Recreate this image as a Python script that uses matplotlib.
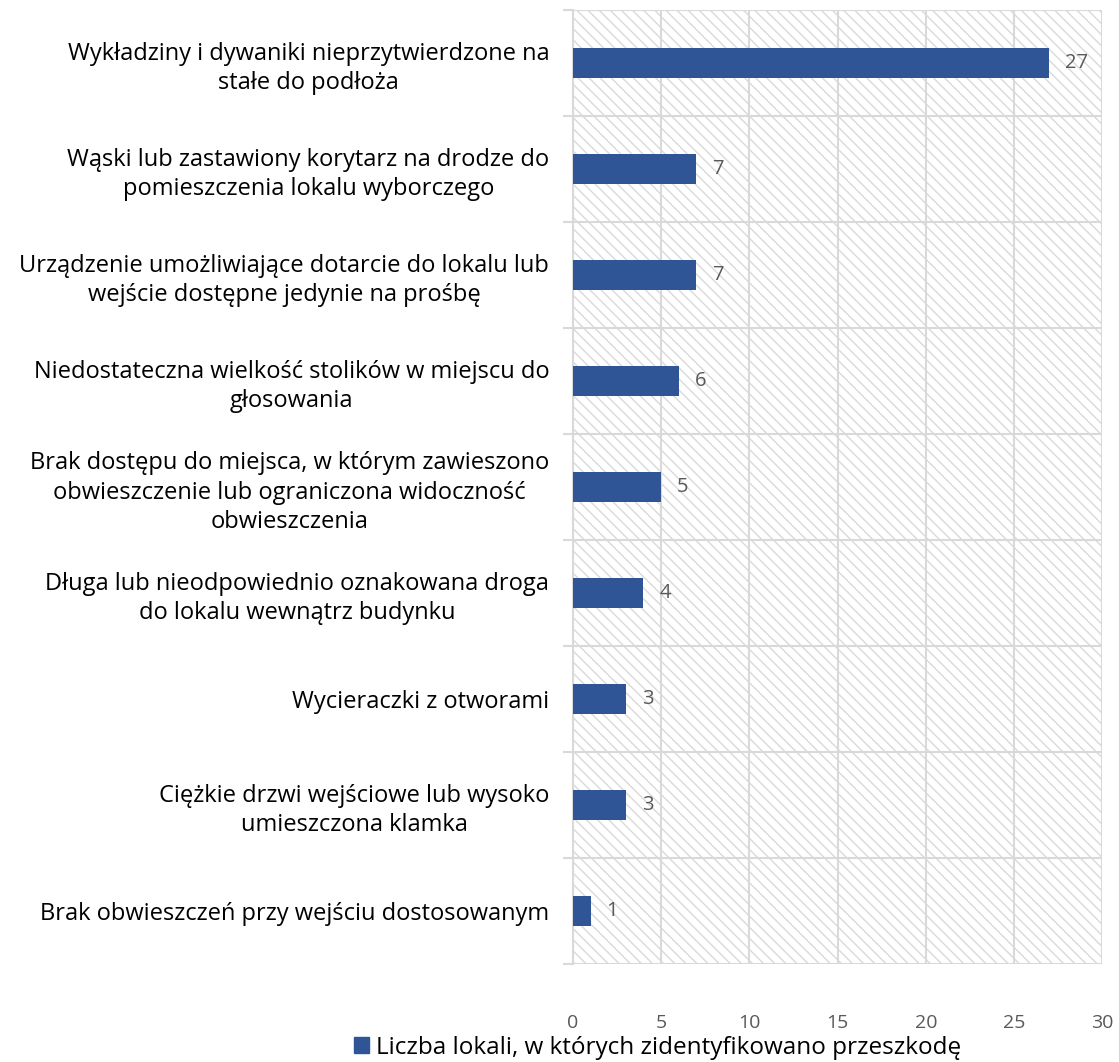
"""
Horizontal bar chart: obstacles found in polling stations.
Saves to out.png
"""

import matplotlib
matplotlib.use('Agg')
import matplotlib.pyplot as plt
from matplotlib.patches import Patch
import numpy as np

plt.rcParams['font.family'] = ['Open Sans', 'DejaVu Sans']
plt.rcParams['hatch.color'] = '#e0e0e0'
plt.rcParams['hatch.linewidth'] = 1.0

# Data (top to bottom)
categories = [
    'Wykładziny i dywaniki nieprzytwierdzone na\nstałe do podłoża',
    'Wąski lub zastawiony korytarz na drodze do\npomieszczenia lokalu wyborczego',
    'Urządzenie umożliwiające dotarcie do lokalu lub\nwejście dostępne jedynie na prośbę',
    'Niedostateczna wielkość stolików w miejscu do\ngłosowania',
    'Brak dostępu do miejsca, w którym zawieszono\nobwieszczenie lub ograniczona widoczność\nobwieszczenia',
    'Długa lub nieodpowiednio oznakowana droga\ndo lokalu wewnątrz budynku',
    'Wycieraczki z otworami',
    'Ciężkie drzwi wejściowe lub wysoko\numieszczona klamka',
    'Brak obwieszczeń przy wejściu dostosowanym',
]
counts = [27, 7, 7, 6, 5, 4, 3, 3, 1]
x_ticks = [0, 5, 10, 15, 20, 25, 30]
legend_label = 'Liczba lokali, w których zidentyfikowano przeszkodę'

BAR_COLOR = '#2F5597'
GRID_COLOR = '#d9d9d9'
TEXT_GRAY = '#595959'

fig = plt.figure(figsize=(11.19, 10.62), dpi=100)
ax = fig.add_axes([0.512, 0.0923, 0.473, 0.8983])

# hatched plot area background
ax.patch.set_facecolor('white')
ax.patch.set_edgecolor(GRID_COLOR)
ax.patch.set_hatch('\\\\\\')

y = np.arange(len(categories))
ax.barh(y, counts, height=0.28, color=BAR_COLOR, zorder=3)

for yi, v in zip(y, counts):
    ax.text(v + 0.9, yi, str(v), va='center', ha='left',
            fontsize=14.5, color=TEXT_GRAY, zorder=4)

ax.set_xlim(0, 30)
ax.set_ylim(len(categories) - 0.5, -0.5)
ax.set_xticks(x_ticks)
ax.set_xticklabels([str(t) for t in x_ticks])
ax.set_yticks(y)
ax.set_yticklabels(categories, fontsize=17, multialignment='center',
                   linespacing=1.3)
ax.set_yticks(np.arange(len(categories) + 1) - 0.5, minor=True)

ax.tick_params(axis='x', length=0, pad=36, labelsize=14, colors=TEXT_GRAY)
ax.tick_params(axis='y', which='major', length=0, pad=17, labelcolor='black')
ax.tick_params(axis='y', which='minor', length=7, width=1.5, color=GRID_COLOR)

ax.grid(axis='x', which='major', color=GRID_COLOR, linewidth=1.5, zorder=1)
ax.grid(axis='y', which='minor', color=GRID_COLOR, linewidth=1.5, zorder=1)
ax.set_axisbelow(True)

for side in ['top', 'right', 'bottom']:
    ax.spines[side].set_visible(False)
ax.spines['left'].set_color(GRID_COLOR)
ax.spines['left'].set_linewidth(1.5)

handle = Patch(facecolor=BAR_COLOR, edgecolor=BAR_COLOR)
fig.legend([handle], [legend_label], loc='center',
           bbox_to_anchor=(0.588, 0.0135), frameon=False, fontsize=17.5,
           handlelength=0.6, handleheight=0.6, handletextpad=0.3)

fig.savefig('out.png', dpi=100)
plt.close(fig)
